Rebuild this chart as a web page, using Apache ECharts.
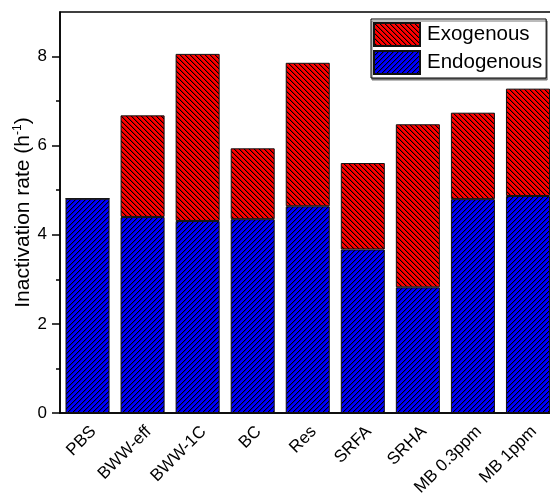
<!DOCTYPE html>
<html>
<head>
<meta charset="utf-8">
<script src="https://cdn.jsdelivr.net/npm/echarts@6/dist/echarts.min.js"></script>
<style>
  html, body { margin: 0; padding: 0; background: #fff; }
  #chart { width: 550px; height: 493px; }
</style>
</head>
<body>
<div id="chart"></div>
<script>
// Samples and the two inactivation components (h^-1)
const categories = ['PBS', 'BWW-eff', 'BWW-1C', 'BC', 'Res', 'SRFA', 'SRHA', 'MB 0.3ppm', 'MB 1ppm'];
const endogenous = [4.81, 4.40, 4.31, 4.35, 4.64, 3.67, 2.82, 4.80, 4.87];
const exogenous  = [0.00, 2.28, 3.75, 1.59, 3.22, 1.94, 3.66, 1.94, 2.41];

// Y axis ticks
const yMajorTicks = [0, 2, 4, 6, 8];
const yMinorTicks = [1, 3, 5, 7];

const FONT = '"Liberation Sans", Arial, sans-serif';

// Pixel hatch tile: dir = 1 for "/" lines, -1 for "\" lines
function hatch(fill, edge, dir) {
  const p = 5;
  const c = document.createElement('canvas');
  c.width = p; c.height = p;
  const g = c.getContext('2d');
  g.fillStyle = fill;
  g.fillRect(0, 0, p, p);
  for (let r = 0; r < p; r++) {
    const x = dir > 0 ? (p - 1 - r) : r;
    g.fillStyle = '#000';
    g.fillRect(x, r, 1, 1);
    g.fillStyle = edge;
    g.fillRect((x + 1) % p, r, 1, 1);
  }
  return { image: c, repeat: 'repeat' };
}

const chart = echarts.init(document.getElementById('chart'), null, { renderer: 'canvas' });

chart.setOption({
  animation: false,
  backgroundColor: '#fff',
  textStyle: { fontFamily: FONT },
  grid: {
    left: 60, top: 12, width: 495.5, height: 401,
    outerBoundsMode: 'none', containLabel: false,
    show: true, borderColor: '#000', borderWidth: 1.5, backgroundColor: 'transparent'
  },
  legend: {
    orient: 'vertical',
    left: 371, top: 19,
    data: ['Exogenous', 'Endogenous'],
    itemWidth: 46, itemHeight: 23, itemGap: 3,
    padding: [3, 4, 3, 2],
    backgroundColor: '#fff',
    borderColor: '#000', borderWidth: 1, borderRadius: 0,
    shadowColor: '#777', shadowBlur: 0, shadowOffsetX: 1, shadowOffsetY: 2,
    icon: 'rect',
    textStyle: { fontFamily: FONT, fontSize: 20.5, color: '#000', padding: [0, 0, 0, 2] }
  },
  xAxis: {
    type: 'category',
    data: categories,
    axisLine: { show: true, lineStyle: { color: '#000', width: 1.5 } },
    axisTick: { show: false },
    axisLabel: {
      rotate: 45, interval: 0, margin: 10, verticalAlign: 'top',
      fontFamily: FONT, fontSize: 17, color: '#000'
    }
  },
  yAxis: [
    {
      type: 'value', min: 0, max: 9,
      name: '{a|Inactivation rate (h}{s|-1}{a|)}',
      nameLocation: 'middle', nameGap: 26, nameMoveOverlap: false,
      nameTextStyle: {
        rich: {
          a: { fontFamily: FONT, fontSize: 21, color: '#000' },
          s: { fontFamily: FONT, fontSize: 12, color: '#000', verticalAlign: 'top', padding: [0, 0, 10, 0] }
        }
      },
      splitLine: { show: false },
      axisLine: { show: true, lineStyle: { color: '#000', width: 1.5 } },
      axisTick: { show: true, length: 8, customValues: yMajorTicks, lineStyle: { color: '#000', width: 1.5 } },
      axisLabel: { customValues: yMajorTicks, margin: 13, fontFamily: FONT, fontSize: 17, color: '#000' }
    },
    {
      type: 'value', min: 0, max: 9, position: 'left',
      splitLine: { show: false },
      axisLine: { show: false },
      axisTick: { show: true, length: 4, customValues: yMinorTicks, lineStyle: { color: '#000', width: 1.5 } },
      axisLabel: { show: false }
    }
  ],
  series: [
    {
      name: 'Endogenous', type: 'bar', stack: 'rate',
      barCategoryGap: '20%',
      data: endogenous,
      itemStyle: { color: hatch('#0000ff', '#0000b0', 1), borderColor: '#111', borderWidth: 1 }
    },
    {
      name: 'Exogenous', type: 'bar', stack: 'rate',
      barCategoryGap: '20%',
      data: exogenous,
      itemStyle: { color: hatch('#ff0000', '#b00000', -1), borderColor: '#111', borderWidth: 1 }
    }
  ]
});
</script>
</body>
</html>
